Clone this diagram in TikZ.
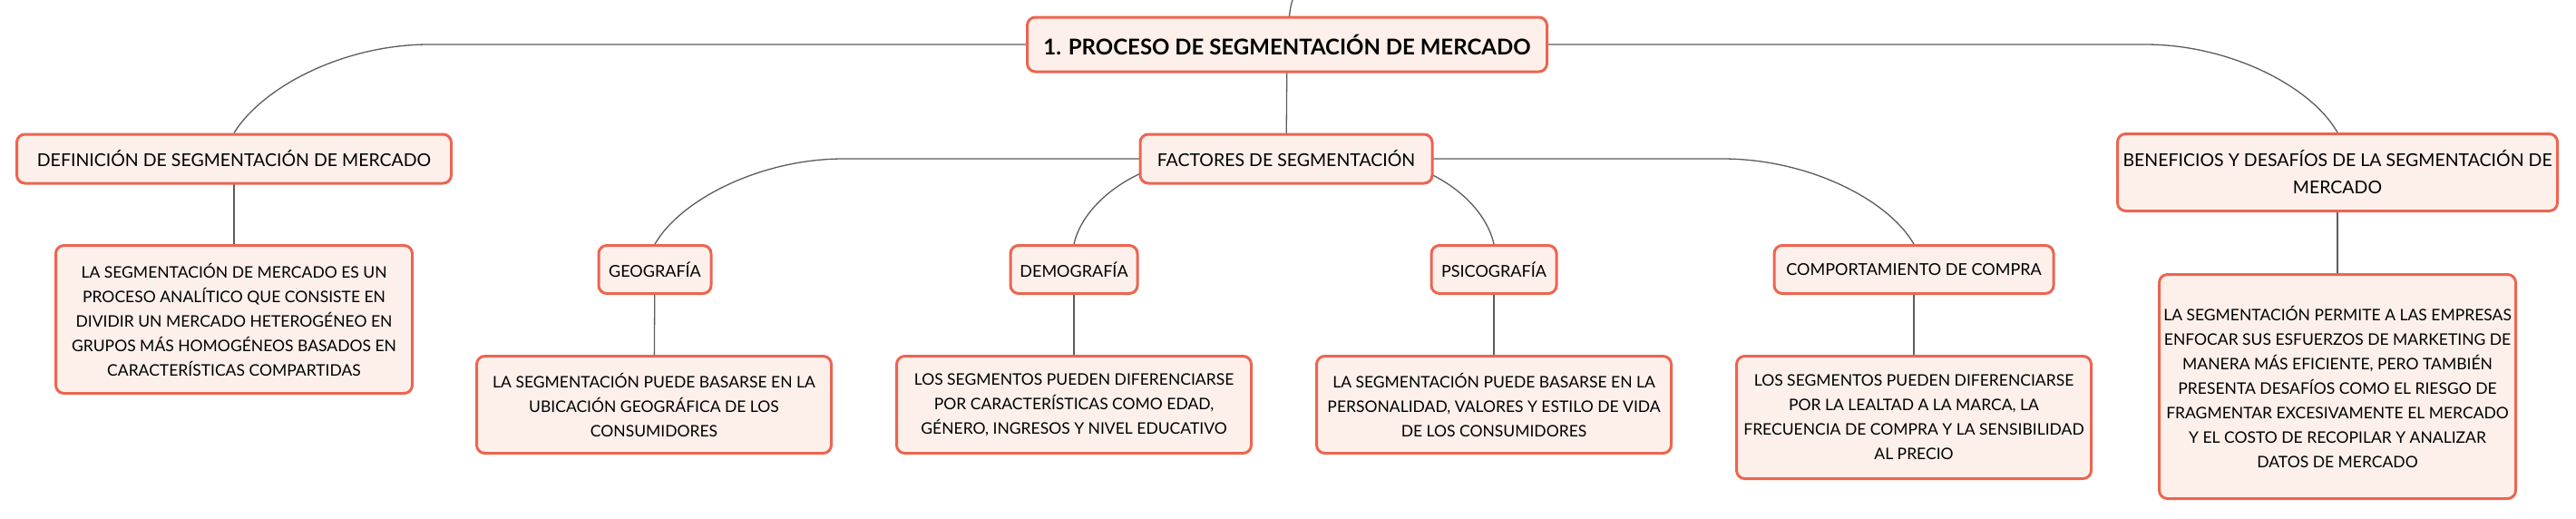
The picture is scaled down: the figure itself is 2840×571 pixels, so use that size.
\documentclass[tikz,border=0pt]{standalone}
\usepackage{fontspec}
\setmainfont{Lato}
\usetikzlibrary{backgrounds}
\definecolor{borde}{HTML}{EC6550}
\definecolor{relleno}{HTML}{FDF0EB}
\definecolor{linea}{HTML}{5C5C5C}
\begin{document}
\begin{tikzpicture}[x=1pt, y=-1pt, line join=round, line cap=round,
    caja/.style={draw=borde, fill=relleno, line width=3pt, rounded corners=9pt, align=center, inner sep=0pt},
    raiz/.style={caja, font=\fontsize{24}{28}\selectfont\bfseries},
    tema/.style={caja, font=\fontsize{19.5}{30}\selectfont},
    subtema/.style={caja, font=\fontsize{18}{27}\selectfont},
    texto/.style={caja, font=\fontsize{17.5}{27}\selectfont},
    rama/.style={draw=linea, line width=1.3pt}]
  \useasboundingbox (0,0) rectangle (2840,571);
  \coordinate (arriba) at (1425,0);
  \node[raiz, minimum width=573pt, minimum height=60pt] (proceso) at (1419,49) {1. PROCESO DE SEGMENTACIÓN DE MERCADO};
  \node[tema, minimum width=479pt, minimum height=54pt] (definicion) at (258,175) {DEFINICIÓN DE SEGMENTACIÓN DE MERCADO};
  \node[tema, minimum width=322pt, minimum height=54pt] (factores) at (1418,175) {FACTORES DE SEGMENTACIÓN};
  \node[tema, minimum width=485pt, minimum height=85pt] (beneficios) at (2577,190) {BENEFICIOS Y DESAFÍOS DE LA SEGMENTACIÓN DE\\MERCADO};
  \node[texto, minimum width=393pt, minimum height=163pt] (defdesc) at (258,352) {LA SEGMENTACIÓN DE MERCADO ES UN\\PROCESO ANALÍTICO QUE CONSISTE EN\\DIVIDIR UN MERCADO HETEROGÉNEO EN\\GRUPOS MÁS HOMOGÉNEOS BASADOS EN\\CARACTERÍSTICAS COMPARTIDAS};
  \node[texto, minimum width=393pt, minimum height=247pt] (bendesc) at (2577,426) {LA SEGMENTACIÓN PERMITE A LAS EMPRESAS\\ENFOCAR SUS ESFUERZOS DE MARKETING DE\\MANERA MÁS EFICIENTE, PERO TAMBIÉN\\PRESENTA DESAFÍOS COMO EL RIESGO DE\\FRAGMENTAR EXCESIVAMENTE EL MERCADO\\Y EL COSTO DE RECOPILAR Y ANALIZAR\\DATOS DE MERCADO};
  \node[subtema, minimum width=124pt, minimum height=53pt] (geografia) at (722,297) {GEOGRAFÍA};
  \node[subtema, minimum width=140pt, minimum height=53pt] (demografia) at (1184,297) {DEMOGRAFÍA};
  \node[subtema, minimum width=138pt, minimum height=53pt] (psicografia) at (1647,297) {PSICOGRAFÍA};
  \node[subtema, minimum width=308pt, minimum height=53pt] (comportamiento) at (2110,297) {COMPORTAMIENTO DE COMPRA};
  \node[texto, minimum width=391pt, minimum height=107pt] (geodesc) at (721,446) {LA SEGMENTACIÓN PUEDE BASARSE EN LA\\UBICACIÓN GEOGRÁFICA DE LOS\\CONSUMIDORES};
  \node[texto, minimum width=391pt, minimum height=107pt] (demodesc) at (1184,446) {LOS SEGMENTOS PUEDEN DIFERENCIARSE\\POR CARACTERÍSTICAS COMO EDAD,\\GÉNERO, INGRESOS Y NIVEL EDUCATIVO};
  \node[texto, minimum width=391pt, minimum height=107pt] (psicodesc) at (1647,446) {LA SEGMENTACIÓN PUEDE BASARSE EN LA\\PERSONALIDAD, VALORES Y ESTILO DE VIDA\\DE LOS CONSUMIDORES};
  \node[texto, minimum width=391pt, minimum height=135pt] (compdesc) at (2110,460) {LOS SEGMENTOS PUEDEN DIFERENCIARSE\\POR LA LEALTAD A LA MARCA, LA\\FRECUENCIA DE COMPRA Y LA SENSIBILIDAD\\AL PRECIO};
  \begin{scope}[on background layer]
    \draw[rama] (arriba) .. controls (1422,10) .. (proceso.center);
    \draw[rama] (proceso.center) -- (factores.center);
    \draw[rama] (proceso.center) -- (473,49) .. controls (380,49) and (290,95) .. (definicion.north);
    \draw[rama] (proceso.center) -- (2365,49) .. controls (2458,49) and (2548,95) .. (beneficios.north);
    \draw[rama] (factores.center) -- (930,175) .. controls (840,175) and (751,219) .. (geografia.north);
    \draw[rama] (factores.center) -- (1330,175) .. controls (1260,175) and (1195,220) .. (demografia.north);
    \draw[rama] (factores.center) -- (1504,175) .. controls (1574,175) and (1636,220) .. (psicografia.north);
    \draw[rama] (factores.center) -- (1899,175) .. controls (1992,175) and (2081,219) .. (comportamiento.north);
    \draw[rama] (definicion.center) -- (defdesc.center);
    \draw[rama] (beneficios.center) -- (bendesc.center);
    \draw[rama] (geografia.center) -- (geodesc.center);
    \draw[rama] (demografia.center) -- (demodesc.center);
    \draw[rama] (psicografia.center) -- (psicodesc.center);
    \draw[rama] (comportamiento.center) -- (compdesc.center);
  \end{scope}
\end{tikzpicture}
\end{document}
